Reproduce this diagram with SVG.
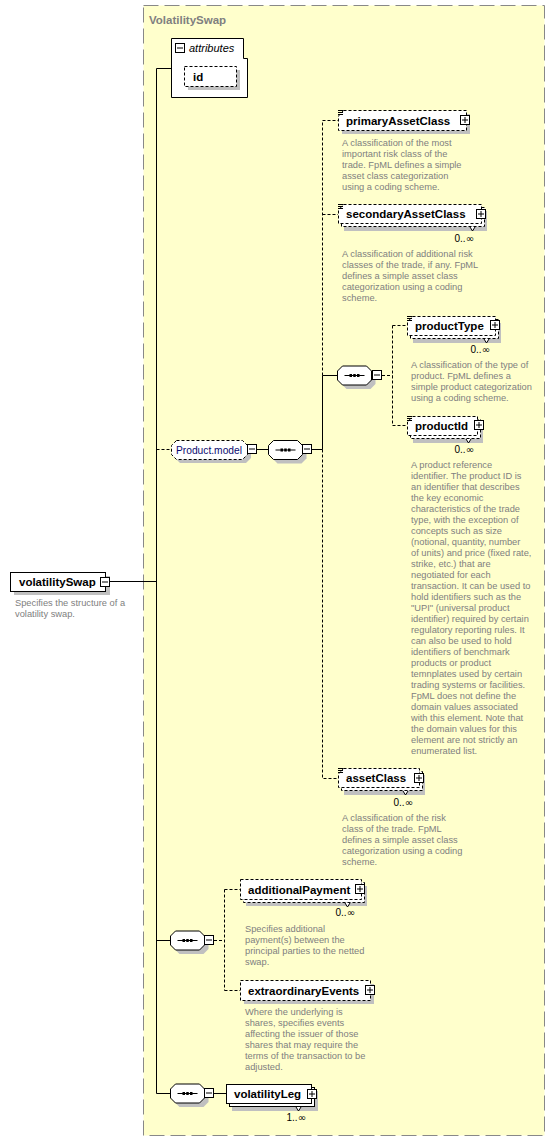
<svg xmlns="http://www.w3.org/2000/svg" width="555" height="1142" viewBox="0 0 555 1142">
<style>
.t{font-family:"Liberation Sans",Arial,sans-serif}
.lbl{font-family:"Liberation Sans",Arial,sans-serif;font-weight:bold;font-size:11.5px;fill:#000}
.desc{font-family:"Liberation Sans",Arial,sans-serif;font-size:9.3px;fill:#808080}
.occ{font-family:"Liberation Sans",Arial,sans-serif;font-size:10px;fill:#000;text-anchor:end}
.inf{font-family:"DejaVu Sans",sans-serif;font-size:10px}
.sh{fill:#C0C0C0;stroke:none}
.box{fill:#fff;stroke:#000;stroke-width:1}
.opt{stroke-dasharray:3,2}
.ln{fill:none;stroke:#000;stroke-width:1}
.dl{fill:none;stroke:#000;stroke-width:1;stroke-dasharray:3,2}
</style>
<defs>
<g id="plus"><rect x="0.5" y="0.5" width="9" height="9" fill="#fff" stroke="#000"/><path d="M2,5H8M5,2V8" stroke="#000"/></g>
<g id="minus"><rect x="0.5" y="0.5" width="9" height="9" fill="#fff" stroke="#000"/><path d="M2,5H8" stroke="#000"/></g>
<g id="seq">
<path class="sh" d="M9,4H33L38,9V18L33,23H9L4,18V9Z"/>
<path class="box" d="M5,0H29L34,5V14L29,19H5L0,14V5Z"/>
<path d="M7,9.5H27" stroke="#000"/>
<rect x="12" y="8" width="2.5" height="3"/><rect x="15.75" y="8" width="2.5" height="3"/><rect x="19.5" y="8" width="2.5" height="3"/>
</g>
<g id="simple"><path d="M0,0.5H5M0,2.5H5M0,4.5H5" stroke="#000"/></g>
</defs>

<rect x="143.5" y="5.5" width="401" height="1130" fill="#FFFFCC" stroke="#888" stroke-dasharray="15,6"/>
<text class="lbl" x="149" y="24" style="fill:#808080">VolatilitySwap</text>

<g id="connectors">
<path class="ln" d="M171,68.5H156.5V1093.5H171"/>
<path class="ln" d="M110,581.5H156.5"/>
<path class="dl" d="M156.5,449.5H171"/>
<path class="ln" d="M257,449.5H269"/>
<path class="ln" d="M312,449.5H322.5V375.5H337"/>
<path class="dl" d="M322.5,375.5V120.5H338M322.5,214.5H338"/>
<path class="dl" d="M322.5,449.5V778.5H338"/>
<path class="dl" d="M382,375.5H392.5M392.5,325.5V425.5M392.5,325.5H407M392.5,425.5H407"/>
<path class="ln" d="M156.5,940.5H171"/>
<path class="dl" d="M214,940.5H224.5M224.5,889.5V990.5M224.5,889.5H240M224.5,990.5H240"/>
<path class="ln" d="M214,1093.5H226"/>
</g>

<g id="attributes">
<path class="box" d="M171.5,38.5H243.5V58.5H247.5V97.5H171.5Z"/>
<use href="#minus" x="175" y="43"/>
<text class="t" x="189" y="52" font-size="11" font-style="italic">attributes</text>
</g>
<g id="id">
<rect class="sh" x="188" y="70" width="52" height="20"/>
<rect class="box opt" x="184.5" y="66.5" width="52" height="20"/>
<text class="lbl" x="193" y="81">id</text>
</g>

<g id="volatilitySwap">
<rect class="sh" x="14" y="576" width="96" height="19"/>
<rect class="box" x="10.5" y="572.5" width="95" height="19"/>
<use href="#minus" x="100" y="577"/>
<text class="lbl" x="19" y="586">volatilitySwap</text>
<text class="desc" x="15" y="606">Specifies the structure of a</text>
<text class="desc" x="15" y="617">volatility swap.</text>
</g>

<g id="Product.model">
<path class="sh" d="M180,444H246L251,449V458L246,463H180L175,458V449Z"/>
<path class="box opt" d="M176.5,440.5H242.5L247.5,445.5V454.5L242.5,459.5H176.5L171.5,454.5V445.5Z"/>
<use href="#minus" x="247" y="444"/>
<text class="t" x="176" y="454" font-size="11" fill="#0A0A70" textLength="66" lengthAdjust="spacingAndGlyphs">Product.model</text>
</g>

<g id="seq1"><use href="#seq" x="268.5" y="440.5"/><use href="#minus" x="302" y="444"/></g>
<g id="seq2"><use href="#seq" x="337.5" y="366"/><use href="#minus" x="372" y="370"/></g>
<g id="seq3"><use href="#seq" x="170.5" y="931"/><use href="#minus" x="204" y="935"/></g>
<g id="seq4"><use href="#seq" x="170.5" y="1084"/><use href="#minus" x="204" y="1088"/></g>

<g id="primaryAssetClass">
<rect class="sh" x="342" y="114" width="128" height="20"/>
<path class="box opt" d="M343.5,110.5H466.5V130.5H338.5V116Z"/>
<use href="#simple" x="338" y="110"/>
<use href="#plus" x="460" y="115"/>
<text class="lbl" x="346" y="125">primaryAssetClass</text>
<text class="desc" x="342" y="146">A classification of the most</text>
<text class="desc" x="342" y="157">important risk class of the</text>
<text class="desc" x="342" y="168">trade. FpML defines a simple</text>
<text class="desc" x="342" y="179">asset class categorization</text>
<text class="desc" x="342" y="190">using a coding scheme.</text>
</g>

<g id="secondaryAssetClass">
<rect class="sh" x="344" y="211" width="143" height="20"/>
<rect class="box opt" x="341.5" y="207.5" width="143" height="19"/>
<path class="box" d="M470,227L472.5,231L475,227"/>
<path class="box opt" d="M343.5,204.5H481.5V223.5H338.5V210Z"/>
<use href="#simple" x="338" y="204"/>
<use href="#plus" x="476" y="209"/>
<text class="lbl" x="346" y="218">secondaryAssetClass</text>
<text class="occ" x="474" y="242">0..<tspan class="inf">∞</tspan></text>
<text class="desc" x="342" y="257">A classification of additional risk</text>
<text class="desc" x="342" y="268">classes of the trade, if any. FpML</text>
<text class="desc" x="342" y="279">defines a simple asset class</text>
<text class="desc" x="342" y="290">categorization using a coding</text>
<text class="desc" x="342" y="301">scheme.</text>
</g>

<g id="productType">
<rect class="sh" x="413" y="323" width="88" height="20"/>
<rect class="box opt" x="410.5" y="319.5" width="88" height="19"/>
<path class="box" d="M484,339L486.5,343L489,339"/>
<path class="box opt" d="M412.5,316.5H495.5V335.5H407.5V322Z"/>
<use href="#simple" x="407" y="316"/>
<use href="#plus" x="490" y="320"/>
<text class="lbl" x="415" y="330">productType</text>
<text class="occ" x="490" y="353">0..<tspan class="inf">∞</tspan></text>
<text class="desc" x="411" y="368">A classification of the type of</text>
<text class="desc" x="411" y="379">product. FpML defines a</text>
<text class="desc" x="411" y="390">simple product categorization</text>
<text class="desc" x="411" y="401">using a coding scheme.</text>
</g>

<g id="productId">
<rect class="sh" x="413" y="423" width="70" height="20"/>
<rect class="box opt" x="410.5" y="419.5" width="70" height="19"/>
<path class="box" d="M466,439L468.5,443L471,439"/>
<path class="box opt" d="M412.5,416.5H477.5V435.5H407.5V422Z"/>
<use href="#simple" x="407" y="416"/>
<use href="#plus" x="474" y="420"/>
<text class="lbl" x="415" y="430">productId</text>
<text class="occ" x="474" y="453">0..<tspan class="inf">∞</tspan></text>
<text class="desc" x="411" y="468">A product reference</text>
<text class="desc" x="411" y="479">identifier. The product ID is</text>
<text class="desc" x="411" y="490">an identifier that describes</text>
<text class="desc" x="411" y="501">the key economic</text>
<text class="desc" x="411" y="512">characteristics of the trade</text>
<text class="desc" x="411" y="523">type, with the exception of</text>
<text class="desc" x="411" y="534">concepts such as size</text>
<text class="desc" x="411" y="545">(notional, quantity, number</text>
<text class="desc" x="411" y="556">of units) and price (fixed rate,</text>
<text class="desc" x="411" y="567">strike, etc.) that are</text>
<text class="desc" x="411" y="578">negotiated for each</text>
<text class="desc" x="411" y="589">transaction. It can be used to</text>
<text class="desc" x="411" y="600">hold identifiers such as the</text>
<text class="desc" x="411" y="611">"UPI" (universal product</text>
<text class="desc" x="411" y="622">identifier) required by certain</text>
<text class="desc" x="411" y="633">regulatory reporting rules. It</text>
<text class="desc" x="411" y="644">can also be used to hold</text>
<text class="desc" x="411" y="655">identifiers of benchmark</text>
<text class="desc" x="411" y="666">products or product</text>
<text class="desc" x="411" y="677">temnplates used by certain</text>
<text class="desc" x="411" y="688">trading systems or facilities.</text>
<text class="desc" x="411" y="699">FpML does not define the</text>
<text class="desc" x="411" y="710">domain values associated</text>
<text class="desc" x="411" y="721">with this element. Note that</text>
<text class="desc" x="411" y="732">the domain values for this</text>
<text class="desc" x="411" y="743">element are not strictly an</text>
<text class="desc" x="411" y="754">enumerated list.</text>
</g>

<g id="assetClass">
<rect class="sh" x="344" y="775" width="81" height="20"/>
<rect class="box opt" x="341.5" y="771.5" width="81" height="19"/>
<path class="box" d="M403,791L405.5,795L408,791"/>
<path class="box opt" d="M343.5,768.5H419.5V787.5H338.5V774Z"/>
<use href="#simple" x="338" y="768"/>
<use href="#plus" x="414" y="773"/>
<text class="lbl" x="346" y="782">assetClass</text>
<text class="occ" x="413" y="806">0..<tspan class="inf">∞</tspan></text>
<text class="desc" x="342" y="821">A classification of the risk</text>
<text class="desc" x="342" y="832">class of the trade. FpML</text>
<text class="desc" x="342" y="843">defines a simple asset class</text>
<text class="desc" x="342" y="854">categorization using a coding</text>
<text class="desc" x="342" y="865">scheme.</text>
</g>

<g id="additionalPayment">
<rect class="sh" x="246" y="886" width="121" height="20"/>
<rect class="box opt" x="243.5" y="882.5" width="121" height="20"/>
<path class="box" d="M345,903L347.5,907L350,903"/>
<rect class="box opt" x="240.5" y="879.5" width="121" height="20"/>
<use href="#plus" x="355" y="884"/>
<text class="lbl" x="248" y="894">additionalPayment</text>
<text class="occ" x="355" y="916">0..<tspan class="inf">∞</tspan></text>
<text class="desc" x="245" y="932">Specifies additional</text>
<text class="desc" x="245" y="943">payment(s) between the</text>
<text class="desc" x="245" y="954">principal parties to the netted</text>
<text class="desc" x="245" y="965">swap.</text>
</g>

<g id="extraordinaryEvents">
<rect class="sh" x="244" y="984" width="130" height="20"/>
<rect class="box opt" x="240.5" y="980.5" width="130" height="20"/>
<use href="#plus" x="365" y="985"/>
<text class="lbl" x="248" y="995">extraordinaryEvents</text>
<text class="desc" x="245" y="1015">Where the underlying is</text>
<text class="desc" x="245" y="1026">shares, specifies events</text>
<text class="desc" x="245" y="1037">affecting the issuer of those</text>
<text class="desc" x="245" y="1048">shares that may require the</text>
<text class="desc" x="245" y="1059">terms of the transaction to be</text>
<text class="desc" x="245" y="1070">adjusted.</text>
</g>

<g id="volatilityLeg">
<rect class="sh" x="232" y="1091" width="86" height="20"/>
<rect class="box" x="229.5" y="1087.5" width="85" height="19"/>
<path class="box" d="M296,1107L298.5,1111L301,1107"/>
<rect class="box" x="226.5" y="1084.5" width="85" height="19"/>
<use href="#plus" x="307" y="1089"/>
<text class="lbl" x="234" y="1098">volatilityLeg</text>
<text class="occ" x="306" y="1121">1..<tspan class="inf">∞</tspan></text>
</g>
</svg>
